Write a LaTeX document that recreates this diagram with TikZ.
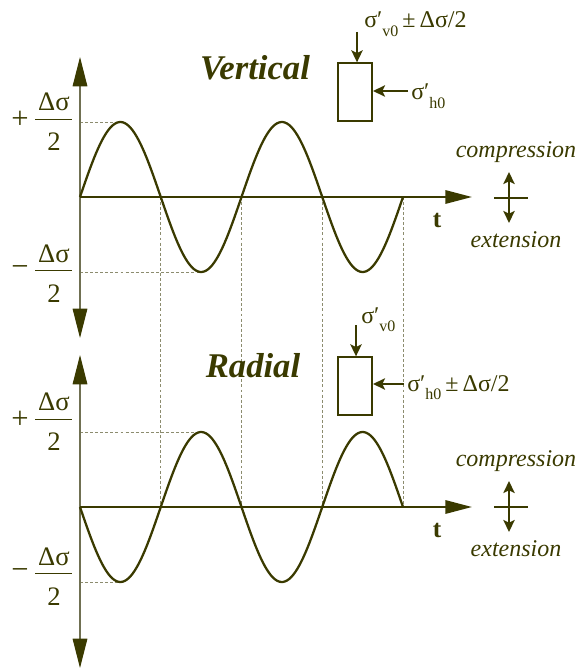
\documentclass[tikz,border=0pt]{standalone}
\usepackage{fontspec}
\setmainfont{Liberation Serif}
\usetikzlibrary{arrows.meta}
\definecolor{ol}{RGB}{58,58,0}
\definecolor{axl}{RGB}{112,112,82}
\definecolor{dsh}{RGB}{140,140,110}
\begin{document}
\begin{tikzpicture}[x=0.75pt,y=-0.75pt,
  every node/.style={text=ol, inner sep=0pt},
  wave/.style={ol, line width=1.7pt, line join=round},
  haxis/.style={ol, line width=1.6pt, -{Triangle[length=20pt,width=10pt]}},
  vaxis/.style={axl, line width=0.8pt, {Triangle[length=22pt,width=11pt,color=ol]}-{Triangle[length=22pt,width=11pt,color=ol]}},
  dline/.style={dsh, line width=0.6pt, dash pattern=on 2.2pt off 1.6pt},
  fbar/.style={ol, line width=0.6pt},
  fr/.style={font=\fontsize{20}{22}\selectfont},
  sgn/.style={font=\fontsize{23}{25}\selectfont},
  title/.style={font=\fontsize{26}{30}\selectfont\bfseries\itshape},
  sidelbl/.style={font=\fontsize{18}{20}\selectfont\itshape},
  tlbl/.style={font=\fontsize{19}{21}\selectfont\bfseries},
  sig/.style={anchor=base west, font=\fontsize{18}{20}\selectfont},
  box/.style={draw=ol, line width=1.5pt, minimum width=25.5pt, minimum height=43pt},
  sarrow/.style={ol, line width=1.5pt, -{Stealth[length=9pt,width=8.5pt,inset=2pt]}},
  darrow/.style={ol, line width=1.5pt, {Stealth[length=9pt,width=8.5pt,inset=2pt]}-{Stealth[length=9pt,width=8.5pt,inset=2pt]}},
  tick/.style={ol, line width=1.5pt}]
\useasboundingbox (0,0) rectangle (582,670);
\newcommand{\subs}[1]{\raisebox{-6.5pt}{\fontsize{12}{14}\selectfont #1}}

% ---------- coordinates ----------
\coordinate (o1) at (80,197);
\coordinate (o2) at (80,507);
\coordinate (v1t) at (80,57);
\coordinate (v1b) at (80,338);
\coordinate (v2t) at (80,355);
\coordinate (v2b) at (80,668);
\coordinate (h1e) at (472,197);
\coordinate (h2e) at (472,507);

% ---------- dashed guide lines ----------
\coordinate (p1a) at (80,122);  \coordinate (p1b) at (120,122);
\coordinate (m1a) at (80,272);  \coordinate (m1b) at (200,272);
\coordinate (p2a) at (80,432);  \coordinate (p2b) at (200,432);
\coordinate (m2a) at (80,582);  \coordinate (m2b) at (120,582);
\draw[dline] (p1a) -- (p1b);
\draw[dline] (m1a) -- (m1b);
\draw[dline] (p2a) -- (p2b);
\draw[dline] (m2a) -- (m2b);
\foreach \k/\xx in {1/160.75,2/241.5,3/322.25,4/403}{
  \coordinate (zt\k) at (\xx,197);
  \coordinate (zb\k) at (\xx,507);
  \draw[dline] (zt\k) -- (zb\k);
}

% ---------- axes ----------
\draw[vaxis] (v1b) -- (v1t);
\draw[vaxis] (v2b) -- (v2t);
\draw[haxis] (o1) -- (h1e);
\draw[haxis] (o2) -- (h2e);

% ---------- waves ----------
\draw[wave] plot[domain=80:403, samples=160] (\x, {197-75*sin((\x-80)/161.5*360)});
\draw[wave] plot[domain=80:403, samples=160] (\x, {507+75*sin((\x-80)/161.5*360)});

% ---------- fraction labels ----------
\node[sgn] (pl1) at (20,120) {+};
\node[fr] (ds1) at (54,102) {Δσ};
\node[fr] (tw1) at (54,142) {2};
\coordinate (b1a) at (35,119); \coordinate (b1b) at (72,119);
\draw[fbar] (b1a) -- (b1b);

\node[sgn] (mi1) at (20,271) {−};
\node[fr] (ds2) at (54,254) {Δσ};
\node[fr] (tw2) at (54,294) {2};
\coordinate (b2a) at (35,270); \coordinate (b2b) at (72,270);
\draw[fbar] (b2a) -- (b2b);

\node[sgn] (pl2) at (20,420) {+};
\node[fr] (ds3) at (54,402) {Δσ};
\node[fr] (tw3) at (54,442) {2};
\coordinate (b3a) at (35,419); \coordinate (b3b) at (72,419);
\draw[fbar] (b3a) -- (b3b);

\node[sgn] (mi2) at (20,574) {−};
\node[fr] (ds4) at (54,557) {Δσ};
\node[fr] (tw4) at (54,597) {2};
\coordinate (b4a) at (35,573); \coordinate (b4b) at (72,573);
\draw[fbar] (b4a) -- (b4b);

% ---------- titles ----------
\node[title] (vt) at (255,68) {Vertical};
\node[title] (rd) at (253,366) {Radial};

% ---------- t labels ----------
\node[tlbl] (t1) at (437,220) {t};
\node[tlbl] (t2) at (437,530) {t};

% ---------- compression / extension ----------
\node[sidelbl] (cp1) at (516,152) {compression};
\node[sidelbl] (ex1) at (516,240) {extension};
\coordinate (c1t) at (509,172); \coordinate (c1b) at (509,223);
\coordinate (k1a) at (494,198); \coordinate (k1b) at (528,198);
\draw[darrow] (c1b) -- (c1t);
\draw[tick] (k1a) -- (k1b);

\node[sidelbl] (cp2) at (516,461) {compression};
\node[sidelbl] (ex2) at (516,549) {extension};
\coordinate (c2t) at (509,481); \coordinate (c2b) at (509,532);
\coordinate (k2a) at (494,507); \coordinate (k2b) at (528,507);
\draw[darrow] (c2b) -- (c2t);
\draw[tick] (k2a) -- (k2b);

% ---------- stress element (top) ----------
\node[box] (bx1) at (355,92) {};
\coordinate (va1) at (357,32);
\coordinate (ha1) at (408,91);
\draw[sarrow] (va1) -- (va1 |- bx1.north);
\draw[sarrow] (ha1) -- (ha1 -| bx1.east);
\node[sig] (sv1) at (364,28) {σ′\subs{v0}\,±\,Δσ/2};
\node[sig] (sh1) at (411,100) {σ′\subs{h0}};

% ---------- stress element (bottom) ----------
\node[box] (bx2) at (355,386) {};
\coordinate (va2) at (356,325);
\coordinate (ha2) at (404,384);
\draw[sarrow] (va2) -- (va2 |- bx2.north);
\draw[sarrow] (ha2) -- (ha2 -| bx2.east);
\node[sig] (sv2) at (361,323) {σ′\subs{v0}};
\node[sig] (sh2) at (407,391) {σ′\subs{h0}\,±\,Δσ/2};
\end{tikzpicture}
\end{document}
